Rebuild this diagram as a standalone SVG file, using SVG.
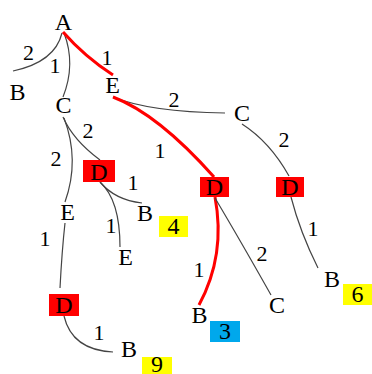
<svg xmlns="http://www.w3.org/2000/svg" width="372" height="374" viewBox="0 0 372 374">
<style>
.n{font-family:"Liberation Serif",serif;font-size:24px;fill:#000;text-anchor:middle}
.l{font-family:"Liberation Serif",serif;font-size:22px;fill:#000;text-anchor:middle}
.e{fill:none;stroke:#444;stroke-width:1.2}
.r{fill:none;stroke:#ff0000;stroke-width:3}
.red{fill:#ff0000}
.yel{fill:#ffff00}
.blu{fill:#00a8ec}
</style>
<rect width="372" height="374" fill="#fff"/>
<g id="connectors">
<path class="e" d="M62,33 Q55,62 13,71"/>
<path class="e" d="M64,33 Q76,64 63,97"/>
<path class="r" d="M63,32 Q85,57 113,75"/>
<path class="e" d="M113,97 Q150,112 225,113"/>
<path class="r" d="M113,97 Q158,114 214,177"/>
<path class="e" d="M242,124 Q270,142 289,176"/>
<path class="e" d="M63,117 Q73,140 100,160"/>
<path class="e" d="M64,118 Q80,160 65,202"/>
<path class="e" d="M65,223 Q62,250 60,288"/>
<path class="e" d="M64,316 Q72,350 113,352"/>
<path class="e" d="M100,182 Q115,200 142,203"/>
<path class="e" d="M100,182 Q120,200 120,247"/>
<path class="r" d="M215,197 Q226,255 199,305"/>
<path class="e" d="M215,198 Q240,240 271,295"/>
<path class="e" d="M291,197 Q300,232 318,268"/>
</g>
<g id="labels">
<text class="l" x="28.5" y="60">2</text>
<text class="l" x="55" y="73">1</text>
<text class="l" x="107" y="65">1</text>
<text class="l" x="174" y="107">2</text>
<text class="l" x="160" y="158">1</text>
<text class="l" x="284" y="147">2</text>
<text class="l" x="88" y="138">2</text>
<text class="l" x="56" y="166">2</text>
<text class="l" x="45" y="246">1</text>
<text class="l" x="99" y="340">1</text>
<text class="l" x="133" y="190">1</text>
<text class="l" x="111" y="233">1</text>
<text class="l" x="199" y="277">1</text>
<text class="l" x="262" y="261">2</text>
<text class="l" x="313" y="236">1</text>
</g>
<g id="nA"><text class="n" x="63.5" y="30">A</text></g>
<g id="nB1"><text class="n" x="17.5" y="100">B</text></g>
<g id="nC1"><text class="n" x="63.5" y="113">C</text></g>
<g id="nE1"><text class="n" x="112.5" y="93">E</text></g>
<g id="nC2"><text class="n" x="242" y="121">C</text></g>
<g id="nD1"><rect class="red" x="83" y="160" width="32" height="22"/><text class="n" x="99" y="180">D</text></g>
<g id="nD2"><rect class="red" x="200" y="177" width="29" height="20"/><text class="n" x="214.5" y="195">D</text></g>
<g id="nD3"><rect class="red" x="276" y="177" width="28" height="20"/><text class="n" x="290" y="195">D</text></g>
<g id="nE2"><text class="n" x="67.5" y="220">E</text></g>
<g id="nB4"><text class="n" x="145" y="221">B</text><rect class="yel" x="159" y="216" width="29" height="21"/><text class="n" x="173.5" y="234">4</text></g>
<g id="nE3"><text class="n" x="125.5" y="265">E</text></g>
<g id="nD4"><rect class="red" x="49" y="294" width="30" height="22"/><text class="n" x="64" y="313">D</text></g>
<g id="nB9"><text class="n" x="129" y="357">B</text><rect class="yel" x="142" y="357" width="30" height="17"/><text class="n" x="157" y="372">9</text></g>
<g id="nB3"><text class="n" x="199.5" y="323">B</text><rect class="blu" x="210" y="321" width="30" height="21"/><text class="n" x="225" y="339">3</text></g>
<g id="nC3"><text class="n" x="277" y="313">C</text></g>
<g id="nB6"><text class="n" x="332" y="287">B</text><rect class="yel" x="343" y="284" width="29" height="21"/><text class="n" x="357.5" y="302">6</text></g>
</svg>
